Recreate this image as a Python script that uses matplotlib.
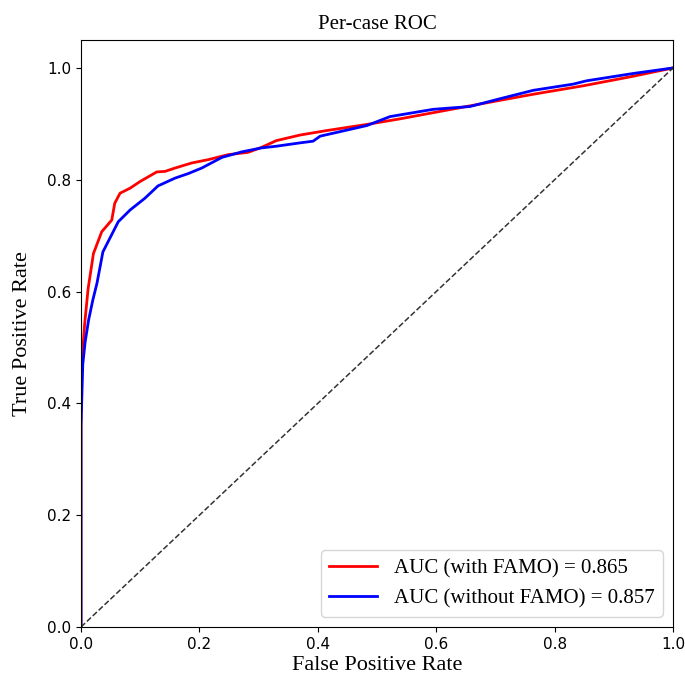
import matplotlib
matplotlib.use("Agg")
import matplotlib.pyplot as plt

fpr_with = [0.0, 0.0, 0.002, 0.006, 0.012, 0.021, 0.035, 0.052, 0.057, 0.066, 0.083, 0.10, 0.128,
            0.142, 0.159, 0.187, 0.215, 0.249, 0.282, 0.305, 0.33, 0.37, 0.415, 0.483, 0.539,
            0.651, 0.764, 0.848, 0.932, 1.0]
tpr_with = [0.0, 0.42, 0.48, 0.54, 0.605, 0.668, 0.707, 0.728, 0.758, 0.776, 0.785, 0.797, 0.814,
            0.815, 0.821, 0.830, 0.836, 0.845, 0.849, 0.858, 0.870, 0.880, 0.888, 0.899, 0.909,
            0.931, 0.953, 0.968, 0.985, 1.0]

fpr_without = [0.0, 0.0, 0.003, 0.007, 0.013, 0.02, 0.027, 0.037, 0.063, 0.083, 0.108, 0.130, 0.159,
               0.181, 0.204, 0.238, 0.272, 0.305, 0.33, 0.37, 0.392, 0.404, 0.483, 0.522, 0.595,
               0.657, 0.708, 0.764, 0.831, 0.854, 0.932, 1.0]
tpr_without = [0.0, 0.36, 0.47, 0.51, 0.55, 0.585, 0.615, 0.671, 0.725, 0.746, 0.767, 0.789, 0.803,
               0.811, 0.821, 0.840, 0.850, 0.857, 0.860, 0.866, 0.869, 0.878, 0.897, 0.913, 0.926,
               0.931, 0.945, 0.96, 0.971, 0.977, 0.99, 1.0]

label_with = "AUC (with FAMO) = 0.865"
label_without = "AUC (without FAMO) = 0.857"

serif = ["Liberation Serif", "DejaVu Serif"]

fig = plt.figure(figsize=(6.85, 6.81), dpi=100)
ax = fig.add_axes([81/685, 1 - 627/681, (673-81)/685, (627-40)/681])
ax.plot(fpr_with, tpr_with, color="red", lw=2, label=label_with)
ax.plot(fpr_without, tpr_without, color="blue", lw=2, label=label_without)
ax.plot([0, 1], [0, 1], color="#333333", lw=1.1, ls="--")
ax.set_xlim(0, 1)
ax.set_ylim(0, 1.05)
ax.set_xticks([0, 0.2, 0.4, 0.6, 0.8, 1.0])
ax.set_yticks([0, 0.2, 0.4, 0.6, 0.8, 1.0])
ax.tick_params(labelsize=11)
ax.set_xlabel("False Positive Rate", family=serif, fontsize=16, labelpad=3)
ax.set_ylabel("True Positive Rate", family=serif, fontsize=16, labelpad=11)
ax.set_title("Per-case ROC", family=serif, fontsize=15, pad=8)
ax.legend(loc="lower right", prop={"family": serif, "size": 15}, handlelength=2.3)
fig.savefig("out.png", dpi=100)
